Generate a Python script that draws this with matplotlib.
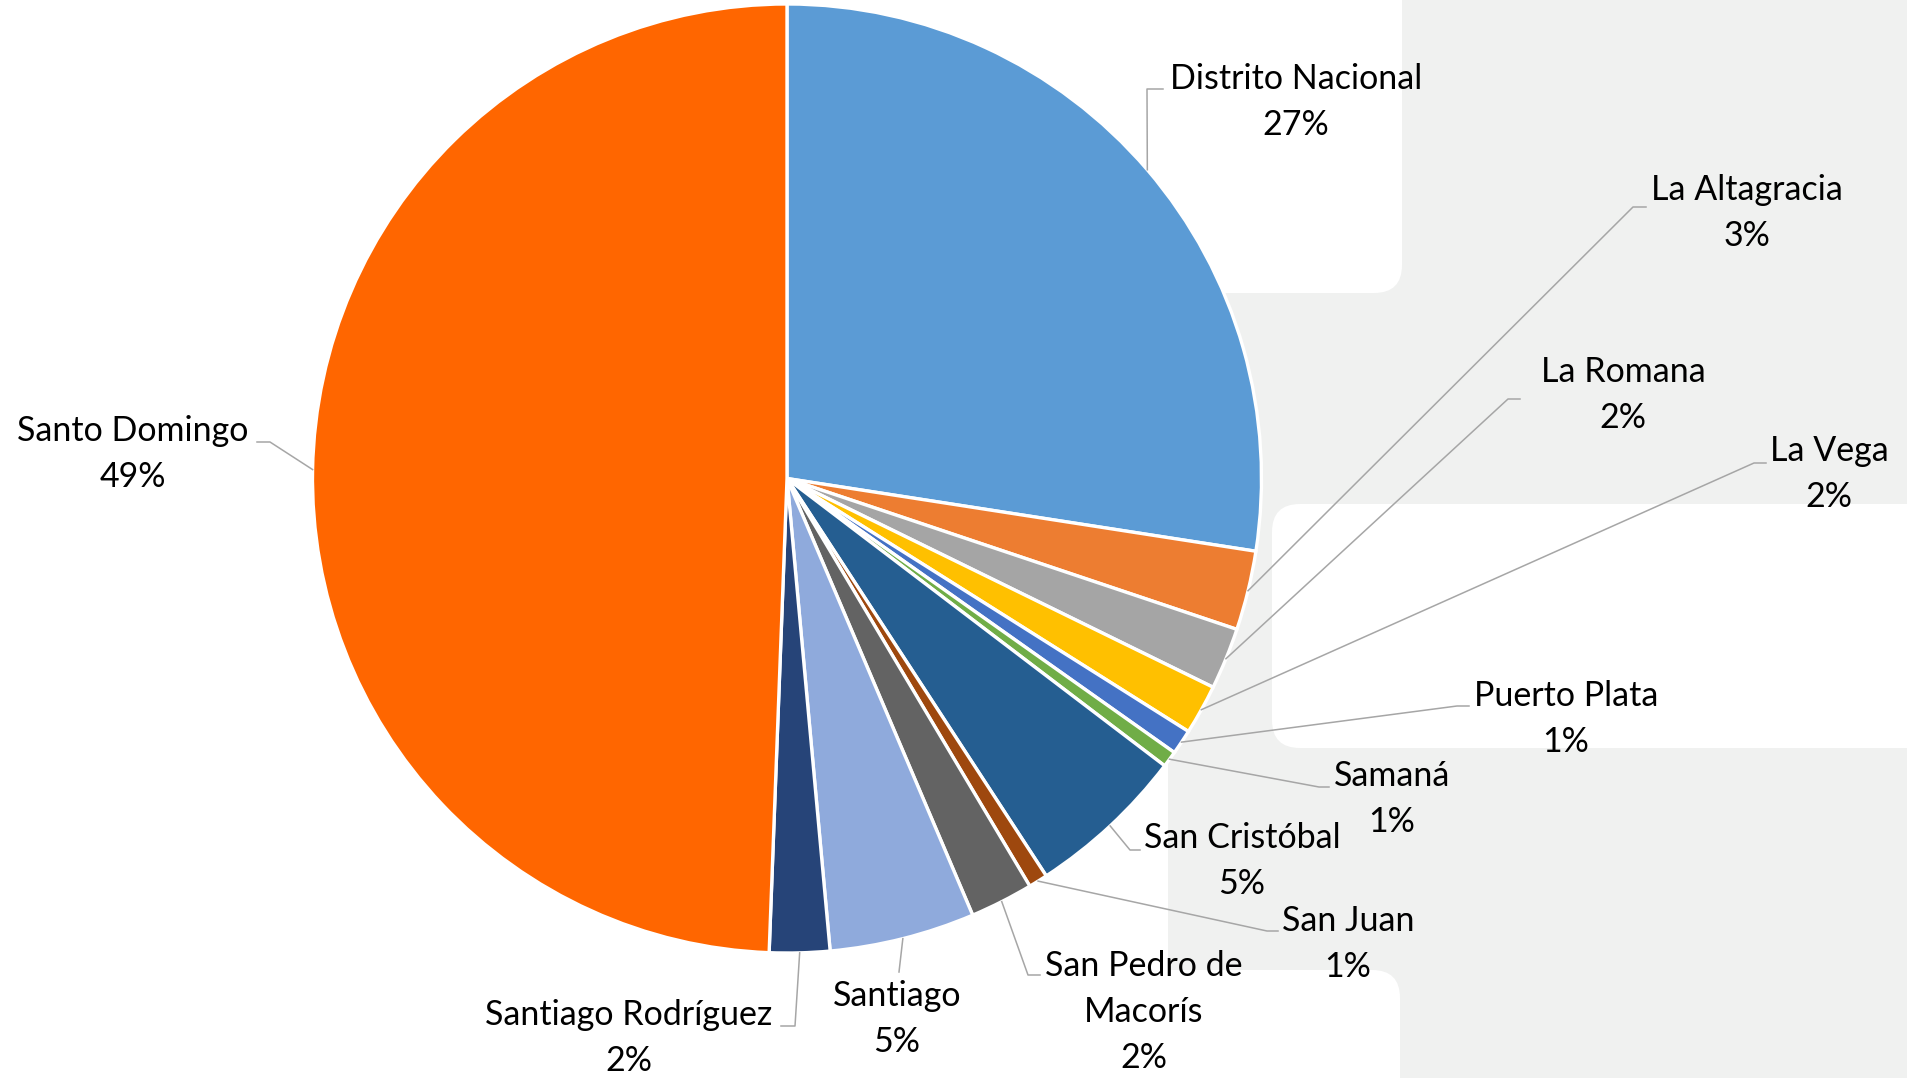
import numpy as np
import matplotlib
matplotlib.use("Agg")
import matplotlib.pyplot as plt
from matplotlib.patches import FancyBboxPatch

# provincias y porcentaje
provincias = ["Distrito Nacional", "La Altagracia", "La Romana", "La Vega",
              "Puerto Plata", "Samaná", "San Cristóbal", "San Juan",
              "San Pedro de\nMacorís", "Santiago", "Santiago Rodríguez",
              "Santo Domingo"]
porcentajes = [27.45, 2.7, 2.1, 1.7, 0.85, 0.55, 5.45, 0.65, 2.15, 4.95, 2.05, 49.4]
colores = ["#5B9BD5", "#ED7D31", "#A5A5A5", "#FFC000", "#4472C4", "#70AD47",
           "#255E91", "#9E480E", "#636363", "#8FAADC", "#264478", "#FF6600"]

# posicion de etiquetas (px): centro del texto, codo de la linea, fin de la linea
etiqueta_xy = [(1296, 102), (1747, 213), (1623, 395), (1829, 474),
               (1566, 719), (1392, 799), (1242, 861), (1348, 944),
               (1144, 1012), (897, 1019), (629, 1038), (133, 454)]
codo_xy = [(1147, 89), (1633, 207), (1508, 399), (1754, 463),
           (1457, 706), (1319, 787), (1130, 850), (1267, 931),
           (1028, 975), (899, 972), (795, 1026), (270, 442)]
fin_x = [1163, 1646, 1520, 1766, 1469, 1329, 1140, 1278, 1040, 899, 781, 257]

W, H = 1908, 1078
centro = (787, 478.5)
radio = 474.5

fig = plt.figure(figsize=(W / 100, H / 100), dpi=100)
plt.rcParams['font.family'] = ['Lato', 'DejaVu Sans']
ax = fig.add_axes([0, 0, 1, 1])

# fondo gris con cajas blancas redondeadas (captura original)
gris = "#F0F1F0"
ax.add_patch(FancyBboxPatch((1168, -60), 900, 1200, boxstyle="round,pad=0,rounding_size=28",
                            fc=gris, ec="none", zorder=0))
ax.add_patch(FancyBboxPatch((-60, -60), 1462, 353, boxstyle="round,pad=0,rounding_size=28",
                            fc="white", ec="none", zorder=0.1))
ax.add_patch(FancyBboxPatch((1272, 504), 800, 244, boxstyle="round,pad=0,rounding_size=28",
                            fc="white", ec="none", zorder=0.1))
ax.add_patch(FancyBboxPatch((-60, 970), 1460, 200, boxstyle="round,pad=0,rounding_size=28",
                            fc="white", ec="none", zorder=0.1))

# eje y invertido (coordenadas en px) -> startangle=-90 y counterclock=True = horario desde arriba
wedges, _ = ax.pie(porcentajes, colors=colores, startangle=-90, counterclock=True,
                   center=centro, radius=radio, frame=True,
                   wedgeprops=dict(edgecolor="white", linewidth=2.4))
ax.set_xlim(0, W)
ax.set_ylim(H, 0)
ax.set_aspect("equal")
ax.axis("off")

for w, nombre, p, (tx, ty), (cx, cy), fx in zip(wedges, provincias, porcentajes,
                                               etiqueta_xy, codo_xy, fin_x):
    ang = np.deg2rad((w.theta1 + w.theta2) / 2)
    sx = centro[0] + radio * np.cos(ang)
    sy = centro[1] + radio * np.sin(ang)
    ax.plot([sx, cx, fx], [sy, cy, cy], color="#A6A6A6", lw=1.1, zorder=3)
    ax.text(tx, ty, "%s\n%d%%" % (nombre, round(p)), ha="center", va="center",
            multialignment="center", fontsize=24.5, linespacing=1.55, color="black", zorder=4)

fig.savefig("out.png", dpi=100)
